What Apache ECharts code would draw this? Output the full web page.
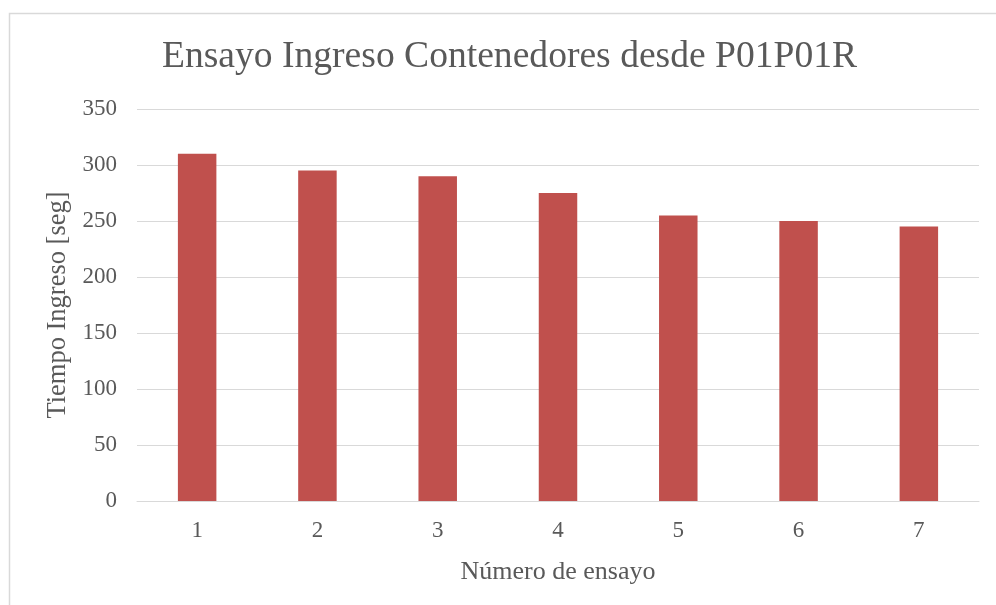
<!DOCTYPE html>
<html>
<head>
<meta charset="utf-8">
<script src="https://cdn.jsdelivr.net/npm/echarts@6/dist/echarts.min.js"></script>
<style>
  html, body { margin: 0; padding: 0; background: #fff; }
  #chart { width: 996px; height: 605px; }
</style>
</head>
<body>
<div id="chart"></div>
<script>
const titleText = 'Ensayo Ingreso Contenedores desde P01P01R';
const categories = ['1', '2', '3', '4', '5', '6', '7'];
const tiempoIngreso = [310, 295, 290, 275, 255, 250, 245];
const yAxisName = 'Tiempo Ingreso [seg]';
const xAxisName = 'Número de ensayo';

const serif = '"Liberation Serif", "Times New Roman", serif';
const textColor = '#595959';

const chart = echarts.init(document.getElementById('chart'), null, { renderer: 'canvas' });
chart.setOption({
  animation: false,
  backgroundColor: '#ffffff',
  graphic: [{
    type: 'rect',
    shape: { x: 9.5, y: 13.5, width: 1000, height: 600 },
    style: { fill: 'none', stroke: '#D9D9D9', lineWidth: 1.5 },
    silent: true
  }],
  title: {
    text: titleText,
    left: 157,
    top: 33,
    textStyle: { fontFamily: serif, fontSize: 37.6, fontWeight: 'normal', color: textColor }
  },
  grid: { left: 137, right: 17, top: 109, bottom: 104, containLabel: false },
  xAxis: {
    type: 'category',
    data: categories,
    name: xAxisName,
    nameLocation: 'middle',
    nameGap: 58,
    nameTextStyle: { fontFamily: serif, fontSize: 26, color: textColor },
    axisLine: { show: true, lineStyle: { color: '#D9D9D9', width: 1 } },
    axisTick: { show: false },
    axisLabel: { fontFamily: serif, fontSize: 23, color: textColor, margin: 18 }
  },
  yAxis: {
    type: 'value',
    min: 0,
    max: 350,
    interval: 50,
    name: yAxisName,
    nameLocation: 'middle',
    nameGap: 61,
    nameTextStyle: { fontFamily: serif, fontSize: 26.5, color: textColor },
    axisLine: { show: false },
    axisTick: { show: false },
    axisLabel: { fontFamily: serif, fontSize: 23, color: textColor, margin: 20 },
    splitLine: { lineStyle: { color: '#D9D9D9', width: 1 } }
  },
  series: [{
    type: 'bar',
    data: tiempoIngreso,
    barWidth: '32%',
    itemStyle: { color: '#C0504D' }
  }]
});
</script>
</body>
</html>
